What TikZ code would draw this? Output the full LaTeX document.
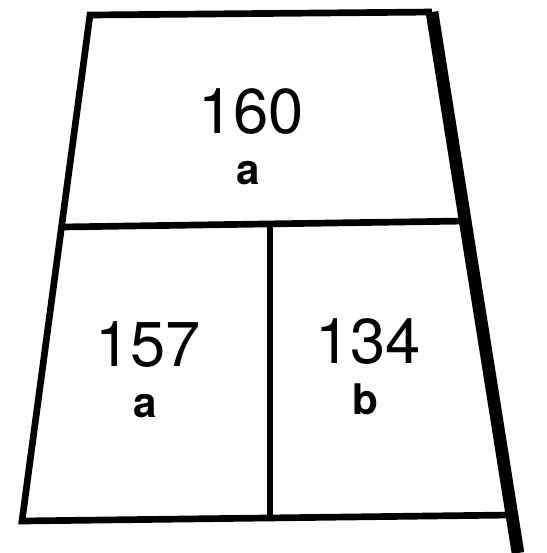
\documentclass[tikz,border=0pt]{standalone}
\usepackage{fontspec}
\setmainfont{TeX Gyre Heros}
\begin{document}
\begin{tikzpicture}[x=0.01cm, y=-0.01cm,
    edge/.style={line width=1.9pt, line join=miter},
    rim/.style={line width=3.6pt},
    count/.style={inner sep=0pt, font=\fontsize{18}{20}\selectfont},
    grade/.style={inner sep=0pt, font=\fontsize{12}{14}\selectfont\bfseries}]
  \useasboundingbox (0,0) rectangle (547,553);
  % corners of the plot
  \coordinate (tl) at (90,15);
  \coordinate (tr) at (432,12);
  \coordinate (br) at (518,553);
  \coordinate (bl) at (22,521);
  \coordinate (be) at (511,515);
  \coordinate (ml) at (61,227);
  \coordinate (mr) at (466,221);
  \coordinate (dt) at (270,224);
  \coordinate (db) at (270,518);
  \draw[edge] (tr) -- (tl) -- (bl) -- (be);
  \draw[edge] (ml) -- (mr);
  \draw[edge] (dt) -- (db);
  \draw[rim] (tr) -- (br);
  % values and letters
  \node[count] (top) at (251,112) {160};
  \node[grade] (topg) at (248,173) {a};
  \node[count] (left) at (148,345) {157};
  \node[grade] (leftg) at (145,406) {a};
  \node[count] (right) at (368,342) {134};
  \node[grade] (rightg) at (365,399) {b};
\end{tikzpicture}
\end{document}
